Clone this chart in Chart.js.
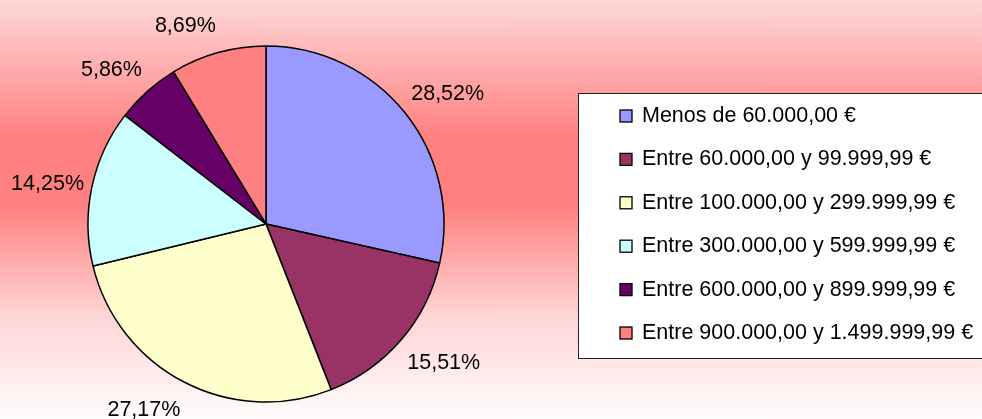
<!DOCTYPE html>
<html>
<head>
<meta charset="utf-8">
<script src="https://cdn.jsdelivr.net/npm/chart.js@4/dist/chart.umd.min.js"></script>
<style>
    html, body { margin: 0; padding: 0; }
    #wrap {
        width: 982px;
        height: 419px;
        background: linear-gradient(to bottom, #ffd8d8 0%, #ff8080 33%, #ff8080 49%, #ffd4d4 75%, #fffcfc 100%);
    }
</style>
</head>
<body>
<div id="wrap"><canvas id="PieChart" width="982" height="419"></canvas></div>
<script>
const labels = [
    'Menos de 60.000,00 €',
    'Entre 60.000,00 y 99.999,99 €',
    'Entre 100.000,00 y 299.999,99 €',
    'Entre 300.000,00 y 599.999,99 €',
    'Entre 600.000,00 y 899.999,99 €',
    'Entre 900.000,00 y 1.499.999,99 €'
];
const values = [28.52, 15.51, 27.17, 14.25, 5.86, 8.69];
const colors = ['#9999ff', '#993366', '#ffffcc', '#ccffff', '#660066', '#ff8080'];

const FONT = '21.5px "Liberation Sans", Arial, sans-serif';
const CAP = 15.4; // approx digit height for that font

// percentage labels just outside the pie, nearest corner touches the ring
const outsideLabels = {
    id: 'outsideLabels',
    afterDatasetsDraw(chart) {
        const ctx = chart.ctx;
        const meta = chart.getDatasetMeta(0);
        ctx.save();
        ctx.font = FONT;
        ctx.fillStyle = '#000';
        ctx.textBaseline = 'alphabetic';
        meta.data.forEach((arc, i) => {
            const p = arc.getProps(['x', 'y', 'startAngle', 'endAngle', 'outerRadius'], true);
            const mid = (p.startAngle + p.endAngle) / 2;
            const cx = Math.cos(mid), sy = Math.sin(mid);
            const x = p.x + cx * (p.outerRadius + 8);
            let y = p.y + sy * (p.outerRadius + 21);
            ctx.textAlign = cx >= 0 ? 'left' : 'right';
            if (sy > 0.3) y += CAP;
            else if (sy >= -0.3) y += CAP / 2;
            const txt = values[i].toFixed(2).replace('.', ',') + '%';
            ctx.fillText(txt, x, y);
        });
        ctx.restore();
    }
};

// boxed legend on the right
const boxLegend = {
    id: 'boxLegend',
    afterDraw(chart) {
        const ctx = chart.ctx;
        ctx.save();
        ctx.fillStyle = '#fff';
        ctx.fillRect(578, 93, 420, 265);
        ctx.strokeStyle = '#222';
        ctx.lineWidth = 1;
        ctx.strokeRect(578.5, 93.5, 420, 265);
        ctx.font = FONT;
        ctx.textAlign = 'left';
        ctx.textBaseline = 'alphabetic';
        chart.data.labels.forEach((lab, i) => {
            const base = 122 + i * 43.4;
            ctx.fillStyle = chart.data.datasets[0].backgroundColor[i];
            ctx.fillRect(620, base - 12, 12, 12);
            ctx.strokeStyle = '#000';
            ctx.lineWidth = 1.3;
            ctx.strokeRect(620, base - 12, 12, 12);
            ctx.fillStyle = '#000';
            ctx.fillText(lab, 642, base);
        });
        ctx.restore();
    }
};

const pie_data = {
    labels: labels,
    datasets: [{
        data: values,
        backgroundColor: colors,
        borderColor: '#000',
        borderWidth: 1.5
    }]
};

const configPie = {
    type: 'pie',
    data: pie_data,
    options: {
        responsive: false,
        animation: false,
        radius: 178,
        layout: {
            padding: { left: 88, right: 538, top: 46, bottom: 17 }
        },
        plugins: {
            legend: { display: false },
            tooltip: { enabled: false }
        }
    },
    plugins: [outsideLabels, boxLegend]
};

const PieChart = new Chart(
    document.getElementById('PieChart'),
    configPie
);
</script>
</body>
</html>
